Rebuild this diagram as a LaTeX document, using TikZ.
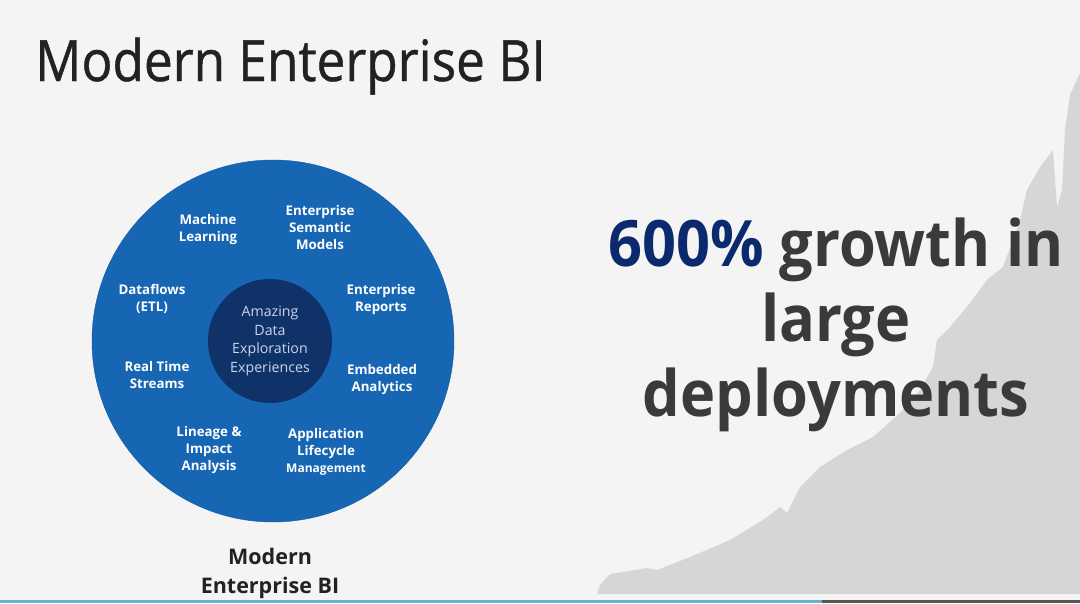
\documentclass[tikz,border=0pt]{standalone}
\usepackage{fontspec}
\setmainfont{Open Sans}
\newfontfamily\headfont[FakeStretch=0.9,FakeBold=0.8]{Open Sans}
\newfontfamily\claimfont[FakeStretch=0.93]{Open Sans}
\usepackage{xcolor}
\usepackage{tikz}
\usetikzlibrary{calc}
\definecolor{slidebg}{HTML}{F4F4F4}
\definecolor{ringblue}{HTML}{1766B4}
\definecolor{ringedge}{HTML}{0F5AA6}
\definecolor{corenavy}{HTML}{0F3269}
\definecolor{coretext}{HTML}{C9D5EA}
\definecolor{chartgrey}{HTML}{D6D6D6}
\definecolor{inkdark}{HTML}{222224}
\definecolor{growthdark}{HTML}{3A3A3D}
\definecolor{growthnavy}{HTML}{0B2A6E}
\definecolor{stripeblue}{HTML}{6BB0D0}
\definecolor{stripegrey}{HTML}{555557}

\begin{document}
\begin{tikzpicture}[
    x=1pt,y=-1pt,
    ring/.style={circle,fill=ringblue,draw=ringedge,thin,minimum size=362pt,inner sep=0pt},
    core/.style={circle,fill=corenavy,minimum size=124pt,inner sep=0pt,align=center,
      text=coretext,font=\fontsize{14.2}{18.7}\selectfont},
    ringlabel/.style={align=center,text=white,inner sep=0pt,
      font=\fontsize{13.3}{17}\selectfont\bfseries},
    title/.style={anchor=base west,inner sep=0pt,text=inkdark,
      font=\headfont\fontsize{57}{64}\selectfont},
    caption/.style={anchor=north,align=center,inner sep=0pt,text=inkdark,
      font=\fontsize{21.5}{28.5}\selectfont\bfseries},
    growth/.style={align=center,inner sep=0pt,text=growthdark,
      font=\claimfont\fontsize{64}{75}\selectfont\bfseries}
  ]
    \useasboundingbox (0,0) rectangle (1080,603);
    \fill[slidebg] (0,0) rectangle (1080,603);

    % growth curve behind the claim
    \fill[chartgrey] (597,594) -- (600,585) -- (610,574) -- (647,568) -- (657,570)
      -- (690,557) -- (730,540) -- (763,520) -- (780,507) -- (787,513) -- (800,487)
      -- (820,467) -- (847,450) -- (873,437) -- (900,413) -- (920,390) -- (933,367)
      -- (937,340) -- (950,327) -- (970,303) -- (987,280) -- (1003,267) -- (1013,240)
      -- (1020,220) -- (1027,190) -- (1040,167) -- (1053,150) -- (1057,207)
      -- (1062,190) -- (1065,130) -- (1070,95) -- (1080,73) -- (1080,594) -- cycle;
    \fill[stripeblue] (0,600) rectangle (822,603);
    \fill[stripegrey] (822,600) rectangle (1080,603);

    \node[title] (head) at (35,81) {Modern Enterprise BI};

    \node[ring] (ring) at (273,341) {};
    \node[core] (core) at ($(ring.center)+(-3,0)$) {Amazing\\Data\\Exploration\\Experiences};
    \node[ringlabel] (ml) at ($(ring.center)+(-65,-111)$) {Machine\\Learning};
    \node[ringlabel] (esm) at ($(ring.center)+(47,-113)$) {Enterprise\\Semantic\\Models};
    \node[ringlabel] (etl) at ($(ring.center)+(-121,-42)$) {Dataflows\\(ETL)};
    \node[ringlabel] (rep) at ($(ring.center)+(108,-41)$) {Enterprise\\Reports};
    \node[ringlabel] (rts) at ($(ring.center)+(-116,34)$) {Real Time\\Streams};
    \node[ringlabel] (emb) at ($(ring.center)+(109,39)$) {Embedded\\Analytics};
    \node[ringlabel] (lin) at ($(ring.center)+(-64,109)$) {Lineage \&\\Impact\\Analysis};
    \node[ringlabel] (alm) at ($(ring.center)+(53,111)$)
      {Application\\Lifecycle\\{\fontsize{12}{17}\selectfont Management}};

    \node[caption] (cap) at (270,548) {Modern\\Enterprise BI};

    \node[growth] (claim) at (836,325)
      {{\color{growthnavy}600\%} growth in\\large\\deployments};
  \end{tikzpicture}
\end{document}
